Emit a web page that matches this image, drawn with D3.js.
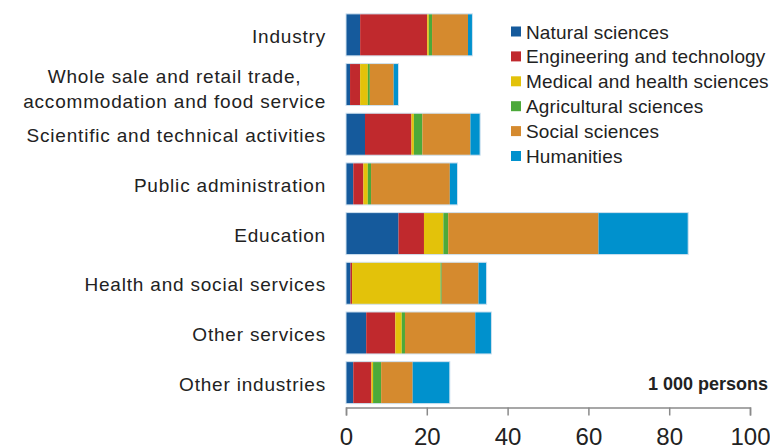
<!DOCTYPE html>
<html>
  <head>
    <title>Researchers by field and industry</title>
    <script src="https://d3js.org/d3.v7.min.js"></script>
    <style>
      body { margin: 0; background: white; }
      text { font-family: Arial, "Liberation Sans", sans-serif; fill: #222; }
      .cat { font-size: 19px; letter-spacing: 0.8px; }
      .leg { font-size: 19px; letter-spacing: 0.15px; }
      .tick text { font-size: 24px; fill: #222; }
      .axis path, .axis line { stroke: #8a8a8a; stroke-width: 1.5; }
    </style>
  </head>
  <body>
    <svg id="main" width="770" height="446"></svg>
    <script>

      var industries = ['Industry',
                        'Whole sale and retail trade,|accommodation and food service',
                        'Scientific and technical activities',
                        'Public administration',
                        'Education',
                        'Health and social services',
                        'Other services',
                        'Other industries'];

      var fields = ['Natural sciences', 'Engineering and technology', 'Medical and health sciences',
                    'Agricultural sciences', 'Social sciences', 'Humanities'];
      var colours = ['#155a9c', '#c0292d', '#e3c20a', '#4ca93a', '#d58a2e', '#0091cd'];

      // thousand persons, one value per industry
      var natural      = [3.5, 1.0, 4.7, 1.8, 13.0, 1.1, 5.0, 1.8];
      var engineering  = [16.6, 2.5, 11.5, 2.5, 6.3, 0.4, 7.2, 4.5];
      var medical      = [0.4, 1.9, 0.6, 1.1, 4.8, 21.9, 1.6, 0.4];
      var agricultural = [0.8, 0.5, 2.1, 0.8, 1.2, 0.3, 0.8, 2.0];
      var social       = [8.9, 5.9, 11.9, 19.5, 37.2, 9.1, 17.4, 7.8];
      var humanities   = [1.1, 1.2, 2.4, 1.9, 22.2, 2.0, 4.0, 9.2];

      var tickValues = [0, 20, 40, 60, 80, 100];

      var series = [natural, engineering, medical, agricultural, social, humanities];
      var table = industries.map(function(name, i) {
        var row = { name: name };
        fields.forEach(function(f, j) { row[f] = series[j][i]; });
        return row;
      });

      var svg = d3.select('#main');

      var x = d3.scaleLinear().domain([0, 100]).range([346, 750]);
      var y = d3.scaleBand().domain(industries).range([10, 407.5]).paddingInner(0.155).paddingOuter(0.078);

      var stacked = d3.stack().keys(fields)(table);

      var layers = svg.append('g').selectAll('g')
        .data(stacked)
        .enter().append('g')
        .attr('fill', function(d, i) { return colours[i]; });

      layers.selectAll('rect')
        .data(function(d) { return d; })
        .enter().append('rect')
        .attr('x', function(d) { return x(d[0]); })
        .attr('y', function(d) { return y(d.data.name); })
        .attr('width', function(d) { return x(d[1]) - x(d[0]); })
        .attr('height', y.bandwidth());

      // faint outline around each bar
      svg.append('g').selectAll('rect')
        .data(table)
        .enter().append('rect')
        .attr('x', x(0))
        .attr('y', function(d) { return y(d.name); })
        .attr('width', function(d) {
          return x(d3.sum(fields, function(f) { return d[f]; })) - x(0);
        })
        .attr('height', y.bandwidth())
        .attr('fill', 'none')
        .attr('stroke', '#cfe1ef')
        .attr('stroke-width', 1);

      // category labels, two-line ones are centred as a block
      var labelRight = 326;
      var labels = svg.append('g').selectAll('text')
        .data(industries)
        .enter().append('text')
        .attr('class', 'cat')
        .attr('y', function(d) {
          var lines = d.split('|');
          return y(d) + y.bandwidth() / 2 + 8 - (lines.length - 1) * 10;
        });

      labels.each(function(d) {
        var t = d3.select(this);
        var lines = d.split('|');
        lines.forEach(function(line, k) {
          t.append('tspan')
            .attr('dy', k === 0 ? 0 : 25)
            .text(line);
        });
        if (lines.length === 1) {
          t.attr('text-anchor', 'end').selectAll('tspan').attr('x', labelRight);
        } else {
          var widths = [];
          t.selectAll('tspan').each(function() { widths.push(this.getComputedTextLength()); });
          var centre = labelRight - d3.max(widths) / 2;
          t.attr('text-anchor', 'middle').selectAll('tspan').attr('x', centre);
        }
      });

      // x axis
      var axis = d3.axisBottom(x).tickValues(tickValues).tickSize(8).tickSizeOuter(8).tickPadding(12);
      svg.append('g')
        .attr('class', 'axis')
        .attr('transform', 'translate(0,407.5)')
        .call(axis);

      // legend
      var legend = svg.append('g').selectAll('g')
        .data(fields)
        .enter().append('g')
        .attr('transform', function(d, i) { return 'translate(511,' + (26.5 + i * 24.9) + ')'; });

      legend.append('rect')
        .attr('width', 10)
        .attr('height', 10)
        .attr('fill', function(d, i) { return colours[i]; });

      legend.append('text')
        .attr('class', 'leg')
        .attr('x', 15)
        .attr('y', 12)
        .text(function(d) { return d; });

      svg.append('text')
        .attr('x', 768)
        .attr('y', 390)
        .attr('text-anchor', 'end')
        .style('font-size', '18px')
        .style('font-weight', 'bold')
        .text('1 000 persons');

    </script>
  </body>
</html>
